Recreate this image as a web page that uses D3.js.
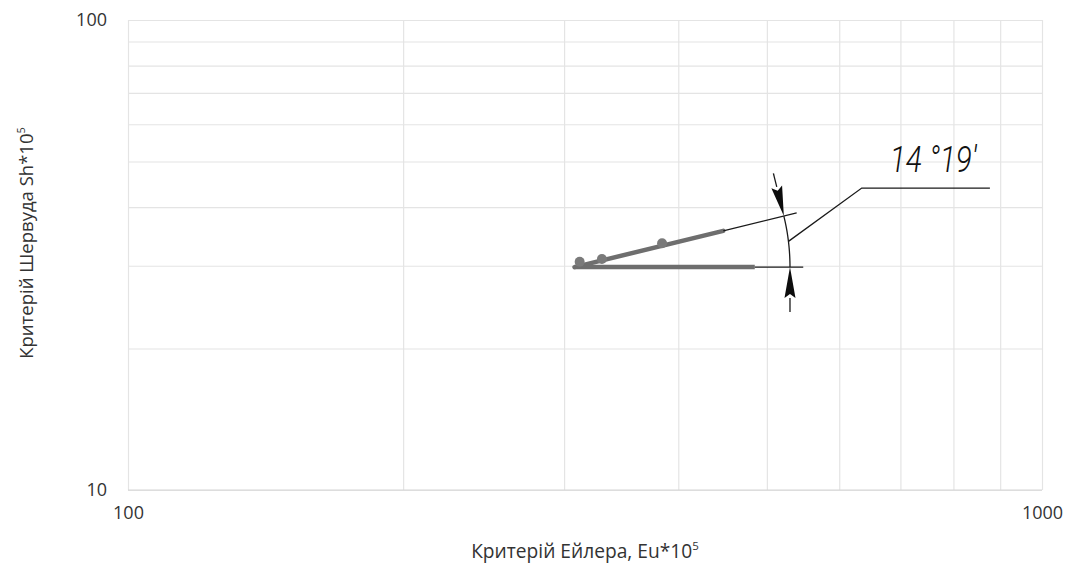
<!DOCTYPE html>
<html>
<head>
<meta charset="utf-8">
<script src="https://cdn.jsdelivr.net/npm/d3@7/dist/d3.min.js"></script>
<style>
  html, body { margin: 0; padding: 0; background: #fff; }
  svg { display: block; }
</style>
</head>
<body>
<svg id="chart" width="1071" height="565"></svg>
<script>
// Euler criterion (x) vs Sherwood criterion (y), both ×10^5, log-log
const xDomain = [100, 1000];
const yDomain = [10, 100];
const xTickLabels = [100, 1000];
const yTickLabels = [10, 100];

// measured points
const euPoints = [312, 330, 384];
const shPoints = [30.6, 31.0, 33.5];

// fitted line through the points
const euFit = [308, 448];
const shFit = [29.8, 35.6];

// horizontal reference line
const euBase = [308, 485];
const shBase = [29.8, 29.8];

// construction lines for the angle callout
const euFitExt = 539;
const euBaseExt = 548;
const euArc = 530;
const euLeader = [635, 877];
const shLeader = 43.9;
const angleLabel = "14 °19′";

const svg = d3.select("#chart");
const margin = { left: 128, top: 20, right: 29, bottom: 75 };
const W = 1071, H = 565;

const x = d3.scaleLog().domain(xDomain).range([margin.left, W - margin.right]);
const y = d3.scaleLog().domain(yDomain).range([H - margin.bottom, margin.top]);

const gridColor = "#e4e4e4";
const textColor = "#333333";
const font = "'Open Sans', 'Noto Sans', sans-serif";

// gridlines
const xGrid = d3.axisBottom(x).tickValues(d3.range(1, 11).map(d => d * 100))
  .tickSize(-(y.range()[0] - y.range()[1])).tickFormat("");
svg.append("g").attr("transform", `translate(0,${y.range()[0]})`).call(xGrid)
  .call(g => g.select(".domain").remove())
  .call(g => g.selectAll("line").attr("stroke", gridColor).attr("stroke-width", 1.2));

const yGrid = d3.axisLeft(y).tickValues(d3.range(1, 11).map(d => d * 10))
  .tickSize(-(x.range()[1] - x.range()[0])).tickFormat("");
svg.append("g").attr("transform", `translate(${x.range()[0]},0)`).call(yGrid)
  .call(g => g.select(".domain").remove())
  .call(g => g.selectAll("line").attr("stroke", gridColor).attr("stroke-width", 1.2));

// bottom axis line
svg.append("line")
  .attr("x1", x.range()[0]).attr("x2", x.range()[1])
  .attr("y1", y.range()[0]).attr("y2", y.range()[0])
  .attr("stroke", "#d6d6d6").attr("stroke-width", 1.2);

// tick labels
const xAxis = d3.axisBottom(x).tickValues(xTickLabels).tickSize(0).tickPadding(16)
  .tickFormat(d3.format("d"));
svg.append("g").attr("transform", `translate(0,${y.range()[0]})`).call(xAxis)
  .call(g => g.select(".domain").remove())
  .call(g => g.selectAll("text").attr("fill", textColor).attr("font-size", 18)
    .attr("font-family", font));

const yAxis = d3.axisLeft(y).tickValues(yTickLabels).tickSize(0).tickPadding(21)
  .tickFormat(d3.format("d"));
svg.append("g").attr("transform", `translate(${x.range()[0]},0)`).call(yAxis)
  .call(g => g.select(".domain").remove())
  .call(g => g.selectAll("text").attr("fill", textColor).attr("font-size", 18)
    .attr("font-family", font));

// axis titles
const xTitle = svg.append("text")
  .attr("x", (x.range()[0] + x.range()[1]) / 2).attr("y", 558)
  .attr("text-anchor", "middle").attr("fill", textColor)
  .attr("font-size", 19.2).attr("font-family", font);
xTitle.append("tspan").text("Критерій Ейлера, Eu*10");
xTitle.append("tspan").attr("dy", -8).attr("font-size", 11.5).text("5");

const yTitle = svg.append("text")
  .attr("transform", `translate(33,243) rotate(-90)`)
  .attr("text-anchor", "middle").attr("fill", textColor)
  .attr("font-size", 18.5).attr("font-family", font);
yTitle.append("tspan").text("Критерій Шервуда Sh*10");
yTitle.append("tspan").attr("dy", -8).attr("font-size", 11).text("5");

const line = d3.line().x(d => x(d[0])).y(d => y(d[1]));
const markColor = "#6e6e6e";

// horizontal reference line
svg.append("path").datum(d3.zip(euBase, shBase)).attr("d", line)
  .attr("fill", "none").attr("stroke", markColor).attr("stroke-width", 4.5);

// fitted line
svg.append("path").datum(d3.zip(euFit, shFit)).attr("d", line)
  .attr("fill", "none").attr("stroke", markColor).attr("stroke-width", 4.5)
  .attr("stroke-linecap", "round");

// points
svg.append("g").selectAll("circle").data(d3.zip(euPoints, shPoints)).join("circle")
  .attr("cx", d => x(d[0])).attr("cy", d => y(d[1])).attr("r", 5)
  .attr("fill", "#7a7a7a");

// construction lines: extensions of both lines
const slope = Math.log10(shFit[1] / shFit[0]) / Math.log10(euFit[1] / euFit[0]);
const shAt = eu => shFit[0] * Math.pow(eu / euFit[0], slope);
const thin = { stroke: "#1a1a1a", w: 1.3 };

svg.append("path").datum([[euFit[1], shFit[1]], [euFitExt, shAt(euFitExt)]]).attr("d", line)
  .attr("fill", "none").attr("stroke", thin.stroke).attr("stroke-width", thin.w);
svg.append("path").datum([[euBase[1], shBase[1]], [euBaseExt, shBase[1]]]).attr("d", line)
  .attr("fill", "none").attr("stroke", thin.stroke).attr("stroke-width", thin.w);

// angle arc
const cx = x(euFit[0]), cy = y(shFit[0]);
const r = x(euArc) - cx;
const theta = Math.atan2(cy - y(shAt(euFitExt)), x(euFitExt) - cx);
const pt = a => [cx + r * Math.cos(a), cy - r * Math.sin(a)];
const arcPts = d3.range(0, 41).map(i => pt(theta * (1 - i / 40)));
svg.append("path").attr("d", d3.line()(arcPts))
  .attr("fill", "none").attr("stroke", thin.stroke).attr("stroke-width", thin.w);

// dimension arrows pointing onto the arc ends
function arrow(tip, dir, tailLen, headLen, headW) {
  const n = Math.hypot(dir[0], dir[1]);
  const ux = dir[0] / n, uy = dir[1] / n;       // direction of travel toward tip
  const px = -uy, py = ux;
  const base = [tip[0] - ux * headLen, tip[1] - uy * headLen];
  const tail = [tip[0] - ux * tailLen, tip[1] - uy * tailLen];
  svg.append("line").attr("x1", tail[0]).attr("y1", tail[1]).attr("x2", base[0]).attr("y2", base[1])
    .attr("stroke", thin.stroke).attr("stroke-width", thin.w);
  svg.append("path").attr("d", d3.line()([
    tip,
    [base[0] + px * headW / 2, base[1] + py * headW / 2],
    [base[0] + ux * 4, base[1] + uy * 4],
    [base[0] - px * headW / 2, base[1] - py * headW / 2]
  ]) + "Z").attr("fill", "#0d0d0d");
}
const topTip = pt(theta);
arrow(topTip, [Math.sin(theta), Math.cos(theta)], 44, 30, 11);
const botTip = pt(0);
arrow(botTip, [0, -1], 45, 31, 11);

// leader line with label shelf
const mid = pt(theta / 2);
svg.append("path").attr("d", d3.line()([
  mid, [x(euLeader[0]), y(shLeader)], [x(euLeader[1]), y(shLeader)]
])).attr("fill", "none").attr("stroke", thin.stroke).attr("stroke-width", thin.w);

svg.append("text")
  .attr("x", x(euLeader[0]) + 28).attr("y", y(shLeader) - 16)
  .attr("font-family", "Roboto, sans-serif").attr("font-weight", 300)
  .attr("font-style", "italic").attr("font-size", 37).attr("fill", "#111")
  .attr("textLength", 87).attr("lengthAdjust", "spacingAndGlyphs")
  .text(angleLabel);
</script>
</body>
</html>
